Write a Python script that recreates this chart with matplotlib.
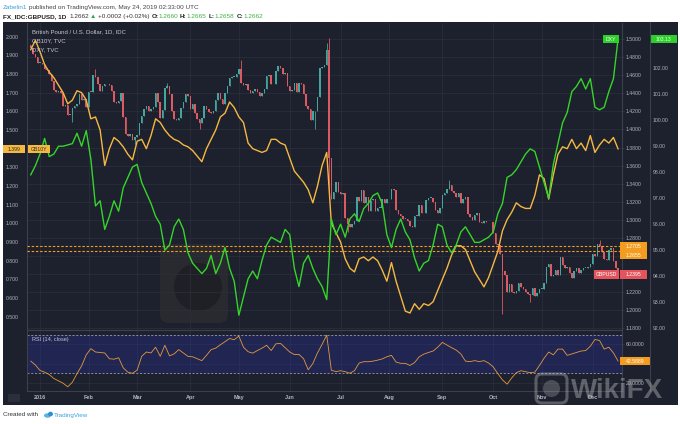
import numpy as np
import pandas as pd
import matplotlib
matplotlib.use("Agg")
import matplotlib.pyplot as plt
from matplotlib.patches import Rectangle, FancyBboxPatch, Circle, Ellipse

plt.rcParams['font.family'] = ['Liberation Sans', 'DejaVu Sans']

W, H = 680, 424

# ---------------- data ----------------
dates = pd.bdate_range('2015-12-28', '2016-12-16')

# GBPUSD daily closes, by month
gbp_dec15 = [1.4900, 1.4840, 1.4805, 1.4736]
gbp_jan = [1.4740, 1.4730, 1.4670, 1.4660, 1.4615, 1.4540, 1.4440, 1.4420, 1.4425, 1.4405, 1.4260,
           1.4275, 1.4165, 1.4160, 1.4240, 1.4260, 1.4280, 1.4395, 1.4330, 1.4335, 1.4250]
gbp_feb = [1.4420, 1.4415, 1.4600, 1.4585, 1.4500, 1.4430, 1.4485, 1.4500, 1.4500, 1.4495, 1.4430,
           1.4310, 1.4290, 1.4320, 1.4405, 1.4140, 1.3945, 1.3925, 1.3945, 1.3880, 1.3920]
gbp_mar = [1.3935, 1.4070, 1.4145, 1.4230, 1.4265, 1.4200, 1.4230, 1.4250, 1.4405, 1.4300, 1.4130, 1.4220,
           1.4460, 1.4480, 1.4390, 1.4200, 1.4120, 1.4110, 1.4130, 1.4240, 1.4300, 1.4395, 1.4375]
gbp_apr = [1.4230, 1.4280, 1.4180, 1.4120, 1.4070, 1.4130, 1.4255, 1.4230, 1.4190, 1.4180, 1.4200,
           1.4330, 1.4400, 1.4340, 1.4280, 1.4400, 1.4485, 1.4575, 1.4580, 1.4585, 1.4615]
gbp_may = [1.4665, 1.4510, 1.4490, 1.4505, 1.4440, 1.4400, 1.4425, 1.4445, 1.4415, 1.4370, 1.4400,
           1.4445, 1.4595, 1.4600, 1.4500, 1.4500, 1.4645, 1.4700, 1.4680, 1.4615, 1.4630, 1.4480]
gbp_jun = [1.4430, 1.4440, 1.4520, 1.4420, 1.4520, 1.4505, 1.4395, 1.4255, 1.4230, 1.4110, 1.4200,
           1.4200, 1.4360, 1.4680, 1.4690, 1.4710, 1.4880, 1.3680, 1.3225, 1.3310, 1.3420, 1.3310]
gbp_jul = [1.3280, 1.3300, 1.3020, 1.2950, 1.2920, 1.2950, 1.2990, 1.3250, 1.3210, 1.3330, 1.3190,
           1.3250, 1.3100, 1.3220, 1.3230, 1.3095, 1.3130, 1.3135, 1.3225, 1.3180, 1.3225]
gbp_aug = [1.3225, 1.3345, 1.3330, 1.3110, 1.3060, 1.3040, 1.3010, 1.3010, 1.2990, 1.2935, 1.2915, 1.3045,
           1.3040, 1.3160, 1.3075, 1.3070, 1.3220, 1.3240, 1.3240, 1.3200, 1.3110, 1.3080, 1.3130]
gbp_sep = [1.3275, 1.3300, 1.3335, 1.3390, 1.3320, 1.3300, 1.3255, 1.3300, 1.3190, 1.3230, 1.3250,
           1.3065, 1.3030, 1.3000, 1.3055, 1.3075, 1.2970, 1.2965, 1.2990, 1.2970, 1.2975, 1.2970]
gbp_oct = [1.2855, 1.2735, 1.2725, 1.2615, 1.2430, 1.2390, 1.2195, 1.2290, 1.2195, 1.2190, 1.2215,
           1.2300, 1.2250, 1.2235, 1.2200, 1.2180, 1.2170, 1.2240, 1.2155, 1.2190, 1.2230]
gbp_nov = [1.2230, 1.2300, 1.2480, 1.2505, 1.2380, 1.2390, 1.2440, 1.2385, 1.2590, 1.2500, 1.2465,
           1.2475, 1.2410, 1.2350, 1.2435, 1.2470, 1.2415, 1.2445, 1.2470, 1.2470, 1.2480, 1.2510]
gbp_dec = [1.2620, 1.2600, 1.2730, 1.2705, 1.2640, 1.2570, 1.2550, 1.2670, 1.2685, 1.2540, 1.2460, 1.2395]
gbp_first_open = 1.4935

# notable wick extremes
wick_high = {'2016-02-04': 1.4668, '2016-03-18': 1.4515, '2016-05-03': 1.4770,
             '2016-06-23': 1.4960, '2016-06-24': 1.5018, '2016-09-06': 1.3445, '2016-12-06': 1.2775}
wick_low = {'2016-01-21': 1.4080, '2016-02-29': 1.3835, '2016-04-07': 1.4005, '2016-06-16': 1.4010,
            '2016-06-24': 1.3229, '2016-07-06': 1.2860, '2016-10-07': 1.1960, '2016-10-25': 1.2090}

# line series, one value every 2nd bar
line_step = 2
gb10y = [1.93, 1.98, 1.92, 1.85, 1.81, 1.78, 1.74, 1.70, 1.64, 1.66,
         1.71, 1.70, 1.66, 1.56, 1.57, 1.50, 1.31, 1.40, 1.46, 1.44,
         1.41, 1.37, 1.34, 1.44, 1.45, 1.40, 1.47, 1.56, 1.54, 1.50,
         1.47, 1.45, 1.44, 1.42, 1.41, 1.39, 1.36, 1.33, 1.40, 1.45,
         1.50, 1.57, 1.59, 1.65, 1.62, 1.57, 1.54, 1.43, 1.40, 1.39,
         1.38, 1.39, 1.45, 1.45, 1.43, 1.42, 1.35, 1.28, 1.25, 1.22,
         1.18, 1.11, 1.20, 1.31, 1.38, 1.00, 0.95, 0.90, 0.81, 0.76,
         0.74, 0.81, 0.82, 0.80, 0.82, 0.80, 0.75, 0.69, 0.79, 0.69,
         0.61, 0.53, 0.52, 0.57, 0.54, 0.57, 0.56, 0.58, 0.64, 0.70,
         0.76, 0.83, 0.88, 0.88, 0.86, 0.80, 0.74, 0.70, 0.66, 0.71,
         0.78, 0.85, 0.96, 1.02, 1.06, 1.11, 1.09, 1.08, 1.08, 1.15,
         1.26, 1.24, 1.13, 1.26, 1.37, 1.41, 1.40, 1.45, 1.40, 1.43,
         1.39, 1.47, 1.38, 1.42, 1.45, 1.43, 1.46, 1.399]
dxy = [97.9, 98.25, 98.7, 99.3, 98.6, 98.7, 99.0, 99.0, 99.05, 99.1,
       99.5, 99.0, 99.6, 98.5, 96.7, 96.9, 95.8, 96.3, 96.9, 96.5,
       97.4, 97.8, 98.2, 98.3, 97.6, 97.2, 96.8, 96.3, 96.0, 95.0,
       95.2, 95.9, 96.2, 95.8, 94.9, 94.5, 94.3, 94.1, 94.3, 94.8,
       94.1, 94.5, 95.1, 94.3, 93.8, 92.5, 93.2, 93.9, 94.2, 93.9,
       94.6, 95.2, 95.5, 95.4, 95.3, 95.8, 95.6, 94.3, 93.6, 94.5,
       94.8, 94.3, 93.9, 93.6, 93.1, 96.2, 95.6, 96.0, 95.5, 96.2,
       96.4, 96.1, 96.6, 96.8, 97.1, 97.2, 96.8, 95.6, 95.1, 95.8,
       96.2, 95.7, 95.4, 94.7, 94.2, 94.5, 94.6, 95.2, 96.0, 95.9,
       95.2, 94.9, 95.2, 95.7, 95.9, 95.6, 95.3, 95.3, 95.4, 95.5,
       95.7, 96.4, 96.8, 97.8, 97.9, 98.1, 98.4, 98.7, 98.9, 98.8,
       98.2, 97.6, 97.0, 98.3, 99.1, 99.9, 100.3, 101.1, 101.3, 101.6,
       101.2, 101.6, 100.5, 100.4, 100.5, 101.1, 101.6, 103.13]
rsi = [42.5, 38.5, 32.8, 31.0, 28.5, 24.4, 22.0, 19.5, 15.8, 20.5,
       29.5, 37.5, 49.0, 55.5, 52.0, 51.5, 51.0, 45.0, 44.5, 46.0,
       35.5, 31.0, 29.8, 33.2, 47.5, 52.0, 51.0, 57.0, 47.5, 59.0,
       48.0, 50.0, 54.5, 51.0, 47.5, 47.0, 45.0, 43.0, 48.5, 54.5,
       56.0, 59.5, 62.7, 66.0, 64.8, 68.5, 57.0, 52.3, 50.8, 53.5,
       56.0, 59.0, 53.5, 60.5, 61.0, 56.5, 52.0, 49.3, 49.5, 45.0,
       33.5, 40.0, 51.0, 60.0, 69.5, 33.0, 31.6, 32.5, 31.5, 29.9,
       32.5, 40.5, 41.9, 41.9, 42.5, 43.5, 44.8, 47.0, 48.5, 41.5,
       40.2, 40.2, 38.0, 41.0, 47.0, 49.8, 51.5, 53.0, 57.0, 62.0,
       59.2, 56.5, 54.0, 50.0, 42.5, 42.0, 43.0, 42.0, 43.0, 40.5,
       36.5, 29.5, 23.0, 18.5, 25.0, 30.5, 32.5, 31.5, 30.5, 31.0,
       38.0, 45.5, 52.0, 49.0, 55.0, 55.0, 48.5, 50.0, 51.5, 53.0,
       53.5, 58.0, 65.0, 64.0, 55.0, 57.0, 51.0, 42.5889]

level_hi, level_lo = 1.2705, 1.2655

gbp_ticks = np.round(np.arange(1.18, 1.5001, 0.02), 2)
dxy_ticks = np.arange(92, 103)
gb_ticks = np.round(np.arange(0.5, 2.0001, 0.1), 1)
rsi_ticks = [20, 40, 60]
# tick labels that sit under a price tag in the reference
gbp_hidden = [1.26, 1.24]
gb_hidden = [1.4]
rsi_hidden = [40]

# ---------------- colors ----------------
BG = '#1d202d'
GRID = '#2a2e3b'
SEP = '#3c404c'
TXT = '#b2b5be'
UP = '#45a59d'
DN = '#dc5a62'
YEL = '#f5b942'
GRN = '#35d52a'
ORG = '#f39c1f'

gbp_close = np.array(gbp_dec15 + gbp_jan + gbp_feb + gbp_mar + gbp_apr + gbp_may + gbp_jun
                     + gbp_jul + gbp_aug + gbp_sep + gbp_oct + gbp_nov + gbp_dec)
gbp_open = np.r_[gbp_first_open, gbp_close[:-1]]
idx = np.arange(len(dates))
highs = np.maximum(gbp_open, gbp_close)
lows = np.minimum(gbp_open, gbp_close)
for d, v in wick_high.items():
    highs[dates.get_loc(pd.Timestamp(d))] = v
for d, v in wick_low.items():
    lows[dates.get_loc(pd.Timestamp(d))] = v

month_idx = [i for i in range(1, len(dates)) if dates[i].month != dates[i - 1].month]
month_lbl = ['2016' if dates[i].month == 1 else dates[i].strftime('%b') for i in month_idx]
xlim = (-1.62, 255.7)


def fbox(x0, y0, x1, y1):
    return [x0 / W, 1 - y1 / H, (x1 - x0) / W, (y1 - y0) / H]


def labels(ticks, fmt, hidden):
    return ['' if any(abs(t - h) < 1e-9 for h in hidden) else fmt.format(t) for t in ticks]


fig = plt.figure(figsize=(W / 100, H / 100), dpi=100, facecolor='white')

bg = fig.add_axes([0, 0, 1, 1], zorder=0)
bg.set_xlim(0, W)
bg.set_ylim(H, 0)
bg.axis('off')
bg.add_patch(Rectangle((3, 22), 675, 383, fc=BG, ec='none'))
bg.add_patch(FancyBboxPatch((160, 244), 68, 79, boxstyle='round,pad=0,rounding_size=9',
                            fc='#57523c', ec='none', alpha=0.22))
bg.add_patch(Circle((198, 287), 24, fc='#12141b', ec='none', alpha=0.45))
bg.add_patch(Rectangle((8, 394), 12, 8, fc='#2b2f3b', ec='none'))

# ---- main pane ----
ax = fig.add_axes(fbox(27, 23, 622, 330))
ax_gb = ax.twinx()
ax_dx = ax.twinx()
ax.set_zorder(1)
ax_gb.set_zorder(2)
ax_dx.set_zorder(3)
ax.patch.set_visible(False)
ax_gb.patch.set_visible(False)
ax_dx.patch.set_visible(False)

colors = np.where(gbp_close >= gbp_open, UP, DN)
body_lo = np.minimum(gbp_open, gbp_close)
body_h = np.maximum(np.abs(gbp_close - gbp_open), 0.0008)
ax.vlines(idx, lows, highs, colors=colors, lw=0.6, zorder=2)
ax.bar(idx, body_h, bottom=body_lo, width=0.65, color=colors, linewidth=0, zorder=2)
for lv in (level_hi, level_lo):
    ax.axhline(lv, color=ORG, lw=0.8, ls=(0, (2.2, 1.6)), zorder=3)

ax.set_xlim(*xlim)
ax.set_ylim(1.1778, 1.518)
ax.yaxis.tick_right()
ax.set_yticks(gbp_ticks)
ax.set_yticklabels(labels(gbp_ticks, '{:.4f}', gbp_hidden))
ax.set_xticks(month_idx)
ax.tick_params(axis='x', length=0, labelbottom=False)
ax.tick_params(axis='y', length=1.5, width=0.5, color=SEP, pad=1, labelsize=3.7, labelcolor=TXT)
ax.grid(True, color=GRID, lw=0.6)
ax.set_axisbelow(True)
for s in ('left', 'right', 'bottom'):
    ax.spines[s].set_color(SEP)
    ax.spines[s].set_linewidth(0.8)
ax.spines['top'].set_visible(False)

x_line = idx[::line_step]
ax_gb.plot(x_line, gb10y, color=YEL, lw=1.0)
ax_gb.set_ylim(0.429, 2.073)
ax_gb.yaxis.tick_left()
ax_gb.set_yticks(gb_ticks)
ax_gb.set_yticklabels(labels(gb_ticks, '{:.3f}', gb_hidden))
ax_gb.tick_params(axis='y', length=0, pad=5.8, labelsize=3.7, labelcolor=TXT)

ax_dx.plot(x_line, dxy, color=GRN, lw=1.0)
ax_dx.set_ylim(91.93, 103.74)
ax_dx.set_yticks(dxy_ticks)
ax_dx.set_yticklabels([f'{v:.2f}' for v in dxy_ticks])
ax_dx.tick_params(axis='y', length=0, pad=22.3, labelsize=3.7, labelcolor=TXT)
for a in (ax_gb, ax_dx):
    for s in a.spines.values():
        s.set_visible(False)

# ---- RSI pane ----
ar = fig.add_axes(fbox(27, 330, 622, 391), zorder=1)
ar.patch.set_visible(False)
ar.axhspan(30, 70, color='#2a35b5', alpha=0.28, lw=0)
for lv in (70, 30):
    ar.axhline(lv, color='#9a9da8', lw=0.6, ls=(0, (2.5, 2)))
ar.plot(x_line, rsi, color='#e39b3b', lw=0.6)
ar.set_xlim(*xlim)
ar.set_ylim(11.4, 74.9)
ar.yaxis.tick_right()
ar.set_yticks(rsi_ticks)
ar.set_yticklabels(labels(rsi_ticks, '{:.4f}', rsi_hidden))
ar.set_xticks(month_idx)
ar.set_xticklabels(month_lbl, fontweight='bold')
ar.tick_params(axis='x', length=0, pad=3.0, labelsize=4.0, labelcolor=TXT)
ar.tick_params(axis='y', length=1.5, width=0.5, color=SEP, pad=1, labelsize=3.7, labelcolor=TXT)
ar.grid(True, color=GRID, lw=0.6)
ar.set_axisbelow(True)
for s in ar.spines.values():
    s.set_color(SEP)
    s.set_linewidth(0.8)

# ---- overlay: texts, tags, separators ----
ov = fig.add_axes([0, 0, 1, 1], zorder=20)
ov.set_xlim(0, W)
ov.set_ylim(H, 0)
ov.axis('off')
ov.patch.set_visible(False)
ov.plot([650, 650], [22, 391], color=SEP, lw=0.8)


def ypx(a, val):
    return H - a.transData.transform((0, val))[1]


def tag(x0, x1, yc, text, fc, tc, h=8.6):
    ov.add_patch(Rectangle((x0, yc - h / 2), x1 - x0, h, fc=fc, ec='none'))
    ov.text((x0 + x1) / 2, yc + 0.3, text, ha='center', va='center', fontsize=3.7, color=tc)


y_gb = ypx(ax_gb, gb10y[-1])
tag(3, 25, y_gb, f'{gb10y[-1]:.3f}', YEL, '#2a2a2a')
tag(27.5, 50, y_gb, 'GB10Y', YEL, '#2a2a2a')
y_dx = ypx(ax_dx, dxy[-1])
tag(603, 619, y_dx, 'DXY', '#2fcf2b', '#eaffea')
tag(651, 677, y_dx, f'{dxy[-1]:.2f}', '#2fcf2b', '#eaffea')
y_l1 = ypx(ax, level_hi)
y_l2 = max(ypx(ax, level_lo), y_l1 + 8.8)
tag(620, 647, y_l1, f'{level_hi:.4f}', ORG, 'white')
tag(620, 647, y_l2, f'{level_lo:.4f}', ORG, 'white')
y_c = ypx(ax, gbp_close[-1])
tag(594, 619, y_c, 'GBPUSD', '#e3545c', 'white')
tag(620, 647, y_c, f'{gbp_close[-1]:.4f}', '#e3545c', 'white')
tag(620, 650, ypx(ar, rsi[-1]), f'{rsi[-1]:.4f}', ORG, 'white', h=8)

for yy, s in ((31.5, 'British Pound / U.S. Dollar, 1D, IDC'), (40.5, 'GB10Y, TVC'), (49.5, 'DXY, TVC')):
    ov.text(32, yy, s, fontsize=4.3, color='#c4c7cf', va='center')
ov.text(32, 340, 'RSI (14, close)', fontsize=4.0, color='#c4c7cf', va='center')


def chain(x, y, pieces, fs):
    prev = None
    for txt, col, wt, gap in pieces:
        if prev is None:
            prev = ov.text(x, y, txt, color=col, fontsize=fs, fontweight=wt, ha='left', va='bottom')
        else:
            prev = ov.annotate(txt, xy=(1, 0), xycoords=prev, xytext=(gap, 0), textcoords='offset points',
                               color=col, fontsize=fs, fontweight=wt, ha='left', va='bottom')


chain(3, 9.8, [('Zabelin1', '#3d9fd8', 'normal', 0),
               ('published on TradingView.com, May 24, 2019 02:33:00 UTC', '#444444', 'normal', 1.4)], 4.6)
G = '#3cb043'
chain(3, 19.2, [('FX_IDC:GBPUSD, 1D', '#222222', 'bold', 0), ('1.2662', '#333333', 'normal', 2.0),
                ('▲', '#26a65b', 'normal', 1.0), ('+0.0002 (+0.02%)', '#333333', 'normal', 1.0),
                ('O:', '#222222', 'bold', 1.5), ('1.2660', G, 'normal', 0),
                ('H:', '#222222', 'bold', 1.5), ('1.2665', G, 'normal', 0),
                ('L:', '#222222', 'bold', 1.5), ('1.2658', G, 'normal', 0),
                ('C:', '#222222', 'bold', 1.5), ('1.2662', G, 'normal', 0)], 4.6)

ov.text(3, 415, 'Created with', fontsize=4.5, color='#333333', va='center')
ov.add_patch(Ellipse((47.5, 415.5), 7, 4.5, fc='#5ab2e6', ec='none'))
ov.add_patch(Ellipse((50.5, 414), 5, 4.5, fc='#2e8fd0', ec='none'))
ov.text(54, 415, 'TradingView', fontsize=4.5, color='#3aa3dd', va='center')

# watermark
ov.add_patch(FancyBboxPatch((536, 374), 31, 29, boxstyle='round,pad=0,rounding_size=6',
                            fc='none', ec='#d0d0d0', lw=2.2, alpha=0.35))
ov.add_patch(Circle((551.5, 388.5), 8.5, fc='#d0d0d0', ec='none', alpha=0.25))
ov.text(571, 391, 'WikiFX', fontsize=20, fontweight='bold', color='#cfcfcf', alpha=0.38, va='center')

fig.savefig('out.png', dpi=100, facecolor='white')
